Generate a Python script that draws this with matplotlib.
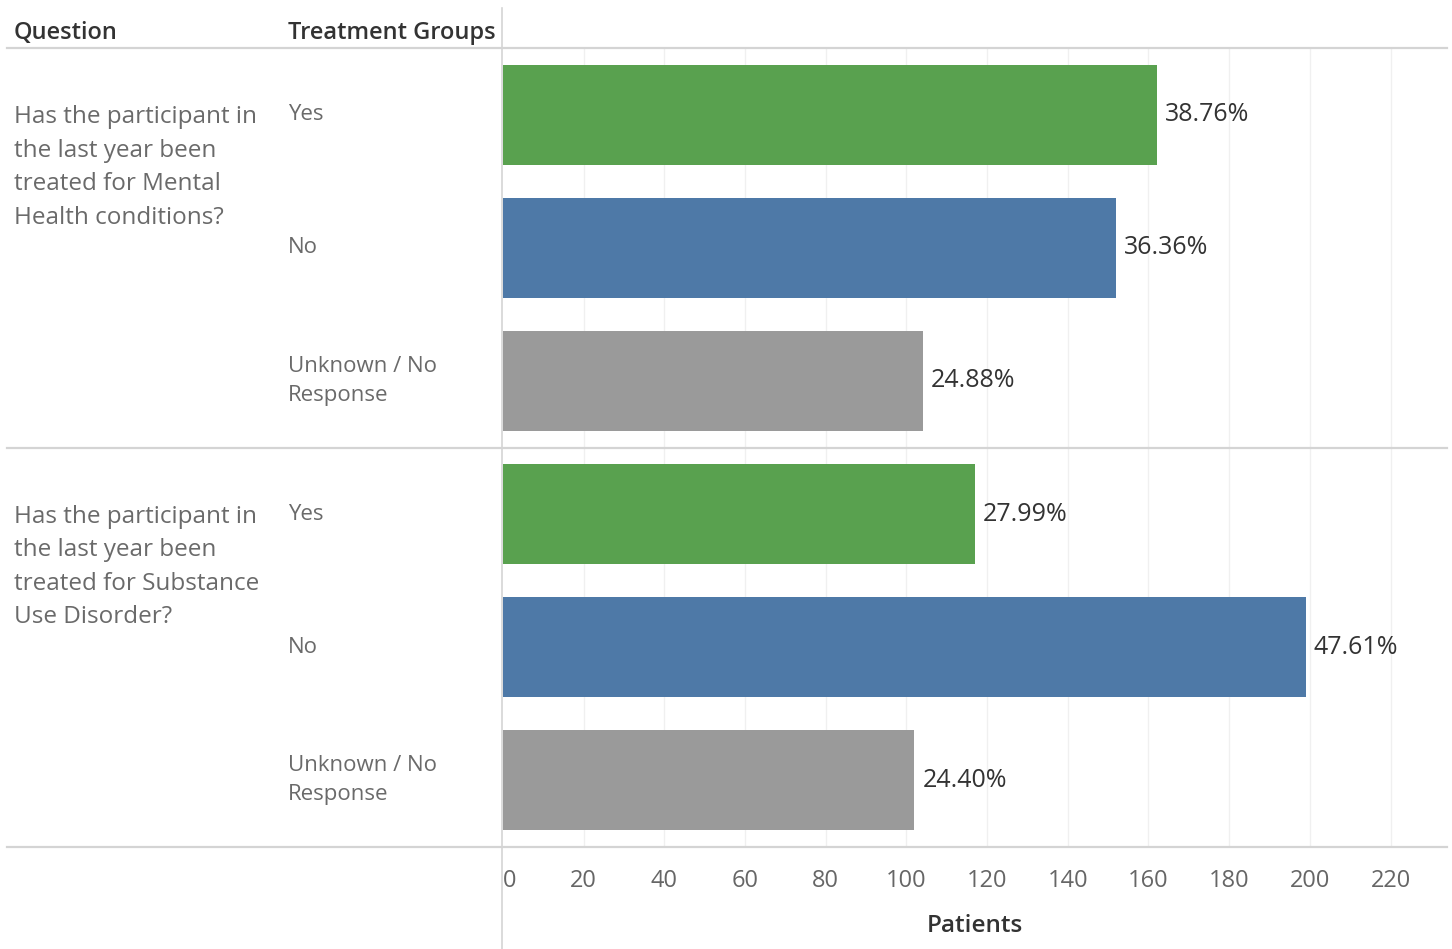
import matplotlib
matplotlib.use("Agg")
import matplotlib.pyplot as plt
import matplotlib.transforms as mtransforms
from matplotlib.lines import Line2D

plt.rcParams['font.family'] = ['Open Sans', 'DejaVu Sans']

questions = [
    "Has the participant in\nthe last year been\ntreated for Mental\nHealth conditions?",
    "Has the participant in\nthe last year been\ntreated for Substance\nUse Disorder?",
]
groups = ["Yes", "No", "Unknown / No\nResponse"]
patients_mh = [162, 152, 104]
patients_sud = [117, 199, 102]
pct_mh = ["38.76%", "36.36%", "24.88%"]
pct_sud = ["27.99%", "47.61%", "24.40%"]
group_colors = ["#59A14F", "#4E79A7", "#9A9A9A"]
xticks = [0, 20, 40, 60, 80, 100, 120, 140, 160, 180, 200, 220]

W, H = 1452, 949
fig = plt.figure(figsize=(W / 100, H / 100), dpi=100)

def fx(px):
    return px / W

def fy(py):
    return 1 - py / H

ax_left, ax_right = 503, 1447
ax_top, ax_bot = 48, 847
ax = fig.add_axes([fx(ax_left), fy(ax_bot), fx(ax_right - ax_left), (ax_bot - ax_top) / H])

values = [patients_mh, patients_sud]
labels = [pct_mh, pct_sud]
for qi in range(2):
    for gi in range(3):
        y = qi * 3 + gi + 0.5
        v = values[qi][gi]
        ax.barh(y, v, height=0.75, color=group_colors[gi], edgecolor='none', zorder=3)
        ax.annotate(labels[qi][gi], xy=(v, y), xytext=(8, 0), textcoords='offset pixels',
                    ha='left', va='center', fontsize=18, color='#333333', zorder=4)

ax.set_xlim(0, 234)
ax.set_ylim(6, 0)
ax.set_yticks([])
ax.set_xticks(xticks)
ax.set_xticklabels([str(t) for t in xticks])
ax.tick_params(axis='x', length=0, pad=16, labelsize=17, labelcolor='#666666')
ax.get_xticklabels()[0].set_horizontalalignment('left')
for t in xticks[1:]:
    ax.axvline(t, color='#f0f0f0', lw=1, zorder=1)
for s in ax.spines.values():
    s.set_visible(False)

# separators
for py in [48, 448, 847]:
    fig.add_artist(Line2D([fx(7), fx(1447)], [fy(py), fy(py)], color='#d4d4d4', lw=1.6))
fig.add_artist(Line2D([fx(502), fx(502)], [fy(8), fy(949)], color='#d4d4d4', lw=1.2))

# headers
fig.text(fx(14), fy(33), "Question", fontsize=17, color='#333333', va='center', ha='left', fontweight='semibold')
fig.text(fx(288), fy(33), "Treatment Groups", fontsize=17, color='#333333', va='center', ha='left', fontweight='semibold')

trans = mtransforms.blended_transform_factory(fig.transFigure, ax.transData)
for qi, q in enumerate(questions):
    ax.text(fx(14), qi * 3 + 0.43, q, transform=trans, ha='left', va='top', fontsize=17.5,
            color='#6a6a6a', linespacing=1.53, clip_on=False)
    for gi, g in enumerate(groups):
        ax.text(fx(288), qi * 3 + gi + 0.5, g, transform=trans, ha='left', va='center',
                fontsize=16, color='#6a6a6a', linespacing=1.5, clip_on=False)

fig.text(fx(975), fy(926), "Patients", fontsize=17.5, color='#333333', ha='center', va='center', fontweight='semibold')

fig.savefig("out.png", dpi=100, facecolor='white')
